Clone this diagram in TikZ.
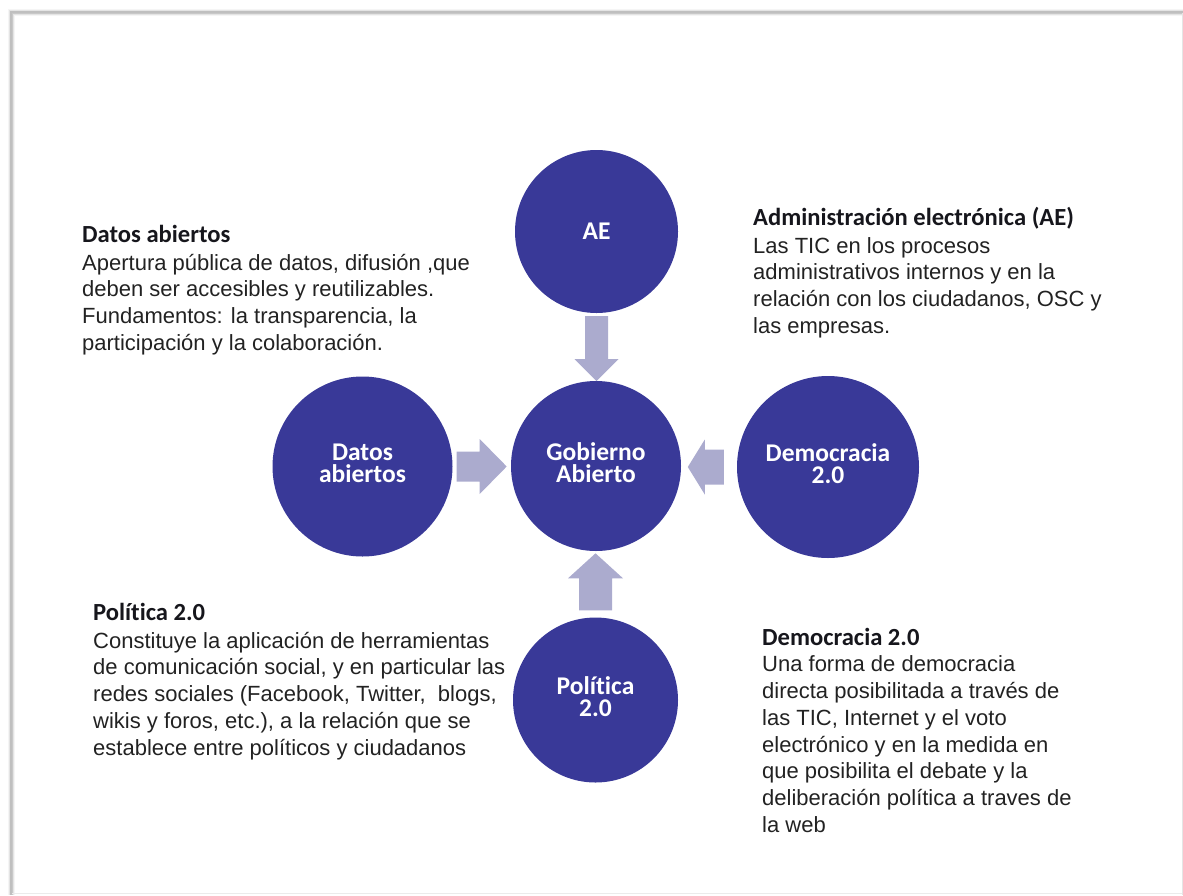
\documentclass[tikz,border=0pt]{standalone}
\usepackage{fontspec}
\setmainfont{Liberation Sans}
\newfontfamily\labelfont[Ligatures=NoCommon]{Carlito}
\usetikzlibrary{calc}

\definecolor{discblue}{RGB}{57,57,152}
\definecolor{arrowgrey}{RGB}{171,171,206}
\definecolor{bodytext}{RGB}{34,34,34}
\definecolor{headtext}{RGB}{22,22,28}

\newcommand\headline[1]{{\rule{0pt}{19pt}\color{headtext}\labelfont\bfseries\fontsize{24.6}{26.7}\selectfont #1}}

\tikzset{
  disc/.style={circle, fill=discblue, inner sep=0pt, text=white, align=center,
    font=\labelfont\bfseries\fontsize{25.5}{22}\selectfont},
  twoline/.style={text depth=6pt},
  note/.style={anchor=north west, inner sep=0pt, align=left, text=bodytext,
    font=\fontsize{22}{26.7}\selectfont},
  pics/blockarrow/.style n args={4}{code={
    % #1 length, #2 head length, #3 half shaft width, #4 half head width
    \fill[arrowgrey] (0,-#3) -- ({#1-#2},-#3) -- ({#1-#2},-#4) -- (#1,0)
      -- ({#1-#2},#4) -- ({#1-#2},#3) -- (0,#3) -- cycle;
  }}
}

\begin{document}
\begin{tikzpicture}[x=1pt,y=-1pt]
\useasboundingbox (0,0) rectangle (1183,895);

% page edge with its soft shadow
\foreach \w/\o in {7/0.04, 5/0.07, 3/0.12}
  \draw[black, opacity=\o, line width=\w pt] (11,895) -- (11,12) -- (1183,12);
\draw[black!25, line width=1.2pt] (11,895) -- (11,12) -- (1183,12);
\draw[black!10, line width=1pt] (1182,13) -- (1182,895);
\draw[black!8, line width=1pt] (12,893.5) -- (1182,893.5);

% circles
\node[disc, minimum size=163] (ae)  at (596.5,231.5) {AE};
\node[disc, twoline, minimum size=170] (ga)  at (596,466) {Gobierno\\Abierto};
\node[disc, twoline, minimum size=180] (da)  at (362.5,466.5) {Datos\\abiertos};
\node[disc, twoline, minimum size=182] (dem) at (828,467) {Democracia\\2.0};
\node[disc, twoline, minimum size=165] (pol) at (595.5,700) {Política\\2.0};

% block arrows into the centre
\pic[rotate=-90] at ($(ae.south)+(0,3)$) {blockarrow={65}{22}{11.5}{22}};
\pic at ($(da.east)+(4,0)$) {blockarrow={50}{27}{15}{27.5}};
\pic[rotate=180] at ($(dem.west)+(-13,0)$) {blockarrow={36}{17}{17.5}{27.5}};
\pic[rotate=90] at ($(pol.north)+(0,-7)$) {blockarrow={57}{25}{16.5}{27.5}};

% descriptions
\node[note] (tda) at (82,223) {\headline{Datos abiertos}\\[1.3pt]
  Apertura pública de datos, difusión ,que\\
  deben ser accesibles y reutilizables.\\
  Fundamentos: la transparencia, la\\
  participación y la colaboración.};

\node[note] (tae) at (753,206) {\headline{Administración electrónica (AE)}\\[1.3pt]
  Las TIC en los procesos\\
  administrativos internos y en la\\
  relación con los ciudadanos, OSC y\\
  las empresas.};

\node[note] (tpol) at (93,601) {\headline{Política 2.0}\\[1.3pt]
  Constituye la aplicación de herramientas\\
  de comunicación social, y en particular las\\
  redes sociales (Facebook, Twitter,\ \ blogs,\\
  wikis y foros, etc.), a la relación que se\\
  establece entre políticos y ciudadanos};

\node[note] (tdem) at (762,626) {\headline{Democracia 2.0}\\[0pt]
  Una forma de democracia\\
  directa posibilitada a través de\\
  las TIC, Internet y el voto\\
  electrónico y en la medida en\\
  que posibilita el debate y la\\
  deliberación política a traves de\\
  la web};
\end{tikzpicture}
\end{document}
